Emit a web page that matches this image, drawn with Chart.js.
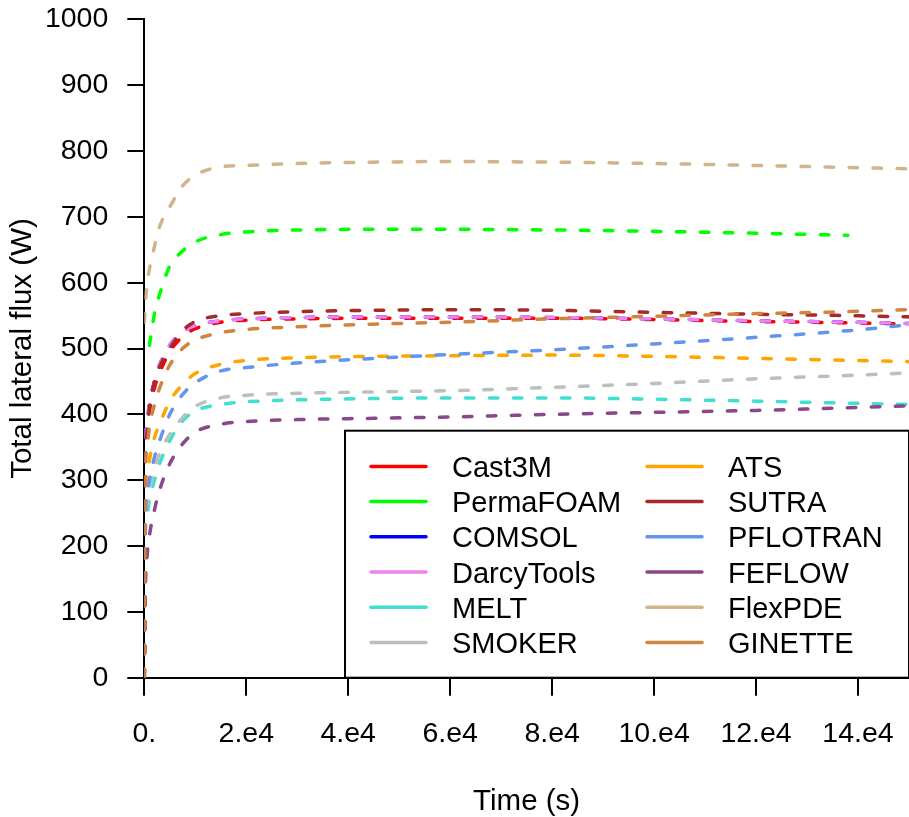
<!DOCTYPE html>
<html>
<head>
<meta charset="utf-8">
<script src="https://cdn.jsdelivr.net/npm/chart.js@4"></script>
<style>
  html,body{margin:0;padding:0;background:#fff;}
  #wrap{width:909px;height:817px;}
</style>
</head>
<body>
<div id="wrap"><canvas id="c" width="909" height="817"></canvas></div>
<script>
// time axis (s), shared by every series
const times = [0,200,500,1000,2000,3000,5000,7500,10000,15000,20000,30000,45000,60000,80000,100000,120000,138000,150000];

const cast3m    = [0,340,375,405,440,463,495,518,530,540,543,545,546,546,546,544,541,539,537];
const permafoam = [null,null,null,505,553,582,625,648,662,673,677,680,681,681,680,678,675,672,null];
const comsol    = [0,345,385,415,450,475,505,525,535,542,545,547,548,548,547,545,542,540,538];
const darcy     = [0,345,385,415,450,475,505,525,535,542,545,547,548,548,547,545,542,540,538];
const melt      = [0,220,245,270,300,325,360,390,405,415,419,422,424,425,425,423,420,417,415];
const smoker    = [0,235,262,285,318,340,370,395,412,425,429,432,434,436,441,447,454,459,463];
const ats       = [0,250,300,330,365,385,420,445,462,476,482,486,488,489,490,488,485,482,480];
const sutra     = [0,330,370,410,450,472,500,527,541,550,553,556,558,559,558,555,552,550,548];
const pflotran  = [0,230,275,300,335,360,400,430,448,466,471,478,485,491,498,507,517,527,536];
const feflow    = [0,130,180,215,255,285,325,355,373,385,389,392,394,396,400,403,406,410,413];
const flexpde   = [540,565,595,620,655,685,715,747,763,776,778,781,783,784,783,781,778,775,773];
const ginette   = [0,300,345,380,415,440,475,500,513,524,529,533,537,540,545,549,553,556,559];

const names  = ["Cast3M","PermaFOAM","COMSOL","DarcyTools","MELT","SMOKER","ATS","SUTRA","PFLOTRAN","FEFLOW","FlexPDE","GINETTE"];
const series = [cast3m,permafoam,comsol,darcy,melt,smoker,ats,sutra,pflotran,feflow,flexpde,ginette];
const colors = ["#FF0000","#00FF00","#0000FF","#EE82EE","#40E0D0","#BEBEBE","#FFA500","#A52A2A","#6495ED","#8B4789","#D2B48C","#CD853F"];

const xTicks = [0,20000,40000,60000,80000,100000,120000,140000];
const yTicks = [0,100,200,300,400,500,600,700,800,900,1000];

const FONT = "'Liberation Sans', Arial, sans-serif";

const datasets = names.map((name,i)=>({
  label:name,
  data: times.map((t,k)=>({x:t,y:series[i][k]})).filter(p=>p.y!==null),
  borderColor:colors[i],
  borderWidth:3.5,
  borderDash:[8.5,15.5],
  borderCapStyle:'round',
  pointRadius:0,
  fill:false,
  cubicInterpolationMode:'monotone',
  order:names.length-i
}));

// legend box in the bottom right corner of the plot
const boxLegend = {
  id:'boxLegend',
  afterDatasetsDraw(chart){
    const {ctx, chartArea} = chart;
    const w = 564, h = 247;
    const x0 = chartArea.right - w, y0 = chartArea.bottom - h;
    ctx.save();
    ctx.fillStyle = '#fff';
    ctx.fillRect(x0, y0, w, h);
    ctx.strokeStyle = '#000';
    ctx.lineWidth = 2;
    ctx.strokeRect(x0, y0, w, h);
    ctx.font = "29px " + FONT;
    ctx.textBaseline = 'alphabetic';
    ctx.fillStyle = '#000';
    names.forEach((n,i)=>{
      const col = Math.floor(i/6), row = i%6;
      const lx = x0 + 26 + col*276;
      const ly = y0 + 35.7 + row*35.2;
      ctx.strokeStyle = colors[i];
      ctx.lineWidth = 3.5;
      ctx.lineCap = 'round';
      ctx.beginPath();
      ctx.moveTo(lx, ly);
      ctx.lineTo(lx+55, ly);
      ctx.stroke();
      ctx.fillText(n, lx+81, ly+10.5);
    });
    ctx.restore();
  }
};

new Chart(document.getElementById('c'),{
  type:'line',
  data:{datasets},
  plugins:[boxLegend],
  options:{
    responsive:false,
    animation:false,
    devicePixelRatio:1,
    layout:{padding:{top:19.3,right:0,left:0,bottom:0}},
    plugins:{legend:{display:false},tooltip:{enabled:false}},
    scales:{
      x:{
        type:'linear', min:0, max:150000,
        afterBuildTicks:s=>{ s.ticks = xTicks.map(v=>({value:v})); },
        afterFit:s=>{ s.height = 139.3; s.paddingRight = 0; s.paddingLeft = 0; },
        ticks:{
          callback:v=> v===0 ? '0.' : (v/10000)+'.e4',
          font:{family:FONT,size:28.5}, color:'#000', padding:21, maxRotation:0
        },
        grid:{drawOnChartArea:false, tickLength:18, color:'#000', lineWidth:2},
        border:{color:'#000', width:2},
        title:{display:true, text:'Time (s)', font:{family:FONT,size:29.5,lineHeight:1}, color:'#000', padding:{top:0,bottom:0}}
      },
      y:{
        min:0, max:1000,
        afterBuildTicks:s=>{ s.ticks = yTicks.map(v=>({value:v})); },
        afterFit:s=>{ s.width = 144.3; s.paddingTop = 0; s.paddingBottom = 0; },
        ticks:{callback:v=>String(v), font:{family:FONT,size:28.5}, color:'#000', padding:19},
        grid:{drawOnChartArea:false, tickLength:17, color:'#000', lineWidth:2},
        border:{color:'#000', width:2},
        title:{display:true, text:'Total lateral flux (W)', font:{family:FONT,size:29.5,lineHeight:1}, color:'#000', padding:{top:8,bottom:0}}
      }
    }
  }
});
</script>
</body>
</html>
